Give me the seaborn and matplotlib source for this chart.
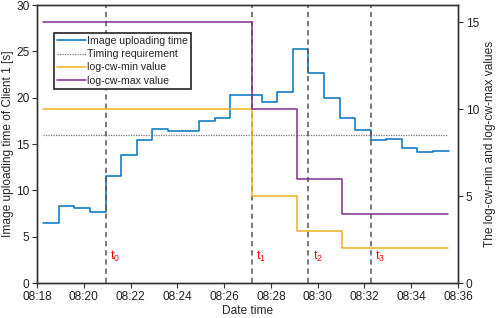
import pandas as pd
import numpy as np
import matplotlib
matplotlib.use("Agg")
import matplotlib.pyplot as plt
import matplotlib.dates as mdates
from matplotlib.lines import Line2D
import seaborn as sns

# -------------------------------------------------
# Datos
# -------------------------------------------------
tiempos_subida = ["08:18:16", "08:18:56", "08:19:36", "08:20:16", "08:20:56",
                  "08:21:36", "08:22:16", "08:22:56", "08:23:36", "08:24:16",
                  "08:24:56", "08:25:36", "08:26:16", "08:26:56", "08:27:36",
                  "08:28:16", "08:28:56", "08:29:36", "08:30:16", "08:30:56",
                  "08:31:36", "08:32:16", "08:32:56", "08:33:36", "08:34:16",
                  "08:34:56", "08:35:36"]
tiempo_subida = [6.5, 8.27, 8.09, 7.7, 11.58, 13.8, 15.46, 16.58, 16.4, 16.4,
                 17.5, 17.77, 20.25, 20.25, 19.56, 20.6, 25.3, 22.65, 19.96,
                 17.8, 16.5, 15.43, 15.5, 14.53, 14.1, 14.24, 14.24]

tiempos_cw = ["08:18:15", "08:27:11", "08:29:08", "08:31:02", "08:35:35"]
cw_min = [10, 5, 3, 2, 2]
cw_max = [15, 10, 6, 4, 4]

requisito = 16
tiempos_req = ["08:18:15", "08:35:35"]

eventos = ["08:20:56", "08:27:11", "08:29:36", "08:32:16"]
etiquetas_eventos = [r"$\mathregular{t_0}$", r"$\mathregular{t_1}$",
                     r"$\mathregular{t_2}$", r"$\mathregular{t_3}$"]

xticks = ["08:18", "08:20", "08:22", "08:24", "08:26", "08:28", "08:30",
          "08:32", "08:34", "08:36"]


def a_fecha(lista):
    return pd.to_datetime(["2021-01-01 " + t for t in lista])


# -------------------------------------------------
# Estilo
# -------------------------------------------------
sns.set_style("ticks")
plt.rcParams["font.family"] = ["Liberation Sans", "DejaVu Sans"]
plt.rcParams["font.size"] = 8.6
plt.rcParams["axes.edgecolor"] = "#333333"
plt.rcParams["axes.linewidth"] = 1.0
plt.rcParams["xtick.color"] = "#333333"
plt.rcParams["ytick.color"] = "#333333"
plt.rcParams["xtick.labelcolor"] = "#222222"
plt.rcParams["ytick.labelcolor"] = "#222222"

azul = "#0072BD"
naranja = "#EDB120"
morado = "#7E2F8E"

df_sub = pd.DataFrame({"t": a_fecha(tiempos_subida), "v": tiempo_subida})
df_cw = pd.DataFrame({"t": a_fecha(tiempos_cw), "min": cw_min, "max": cw_max})
df_req = pd.DataFrame({"t": a_fecha(tiempos_req), "v": [requisito, requisito]})

fig = plt.figure(figsize=(4.98, 3.18), dpi=100)
ax = fig.add_axes([0.0743, 0.110, 0.8454, 0.874])
ax2 = ax.twinx()

sns.lineplot(data=df_sub, x="t", y="v", ax=ax, color=azul, lw=1.1,
             drawstyle="steps-post", legend=False)
sns.lineplot(data=df_req, x="t", y="v", ax=ax, color="#777777", lw=0.9,
             linestyle=(0, (1, 1)), legend=False)
sns.lineplot(data=df_cw, x="t", y="min", ax=ax2, color=naranja, lw=1.1,
             drawstyle="steps-post", legend=False)
sns.lineplot(data=df_cw, x="t", y="max", ax=ax2, color=morado, lw=1.1,
             drawstyle="steps-post", legend=False)

for t, lab in zip(a_fecha(eventos), etiquetas_eventos):
    ax.axvline(t, color="#555555", lw=1.1, linestyle=(0, (3.5, 2.5)), zorder=3)
    ax.annotate(lab, xy=(mdates.date2num(t), 2.0), xytext=(3.2, 0),
                textcoords="offset points", color="red", fontsize=9,
                va="bottom", ha="left")

ticks_x = a_fecha([t + ":00" for t in xticks])
ax.set_xlim(ticks_x[0], ticks_x[-1])
ax.set_xticks(ticks_x)
ax.xaxis.set_major_formatter(mdates.DateFormatter("%H:%M"))
ax.set_ylim(0, 30)
ax.set_yticks(np.arange(0, 31, 5))
ax2.set_ylim(0, 16)
ax2.set_yticks([0, 5, 10, 15])

ax.set_xlabel("Date time", labelpad=1.5)
ax.set_ylabel("Image uploading time of Client 1 [s]", labelpad=1.5)
ax2.set_ylabel("The log-cw-min and log-cw-max values", labelpad=3.5)
ax.tick_params(length=3.5, pad=2)
ax2.tick_params(length=3.5, pad=2)

handles = [Line2D([], [], color=azul, lw=1.1),
           Line2D([], [], color="#777777", lw=0.9, linestyle=(0, (1, 1))),
           Line2D([], [], color=naranja, lw=1.1),
           Line2D([], [], color=morado, lw=1.1)]
labels = ["Image uploading time", "Timing requirement",
          "log-cw-min value", "log-cw-max value"]
leg = ax2.legend(handles, labels, loc="upper left", bbox_to_anchor=(0.04, 0.9),
                 frameon=True, fancybox=False, framealpha=1, edgecolor="#222222",
                 handlelength=2.7, handletextpad=0.1, labelspacing=0.3,
                 borderpad=0.3, borderaxespad=0, fontsize=7.6)
leg.get_frame().set_linewidth(1.2)

fig.savefig("out.png", dpi=100)
